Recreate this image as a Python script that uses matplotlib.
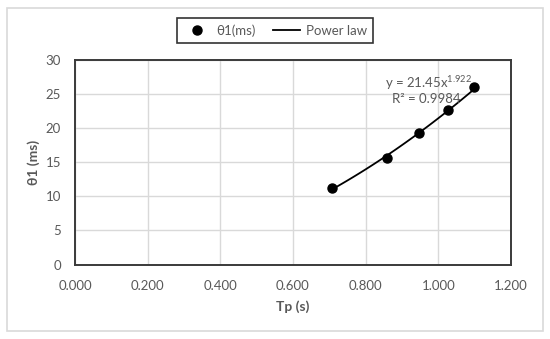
import matplotlib
matplotlib.use("Agg")
import matplotlib.pyplot as plt
import numpy as np
from matplotlib.patches import Rectangle

# data
tp = [0.708, 0.858, 0.948, 1.027, 1.098]
theta1 = [11.2, 15.6, 19.25, 22.65, 26.0]
x_ticks = [0.0, 0.2, 0.4, 0.6, 0.8, 1.0, 1.2]
y_ticks = [0, 5, 10, 15, 20, 25, 30]
eq_text = "y = 21.45x$^{1.922}$"
r2_text = "R² = 0.9984"

fam = ['Lato', 'DejaVu Sans']
plt.rcParams['font.family'] = fam
plt.rcParams['mathtext.fontset'] = 'custom'
plt.rcParams['mathtext.rm'] = 'Lato'
plt.rcParams['mathtext.it'] = 'Lato'
plt.rcParams['mathtext.default'] = 'regular'
gray = '#595959'

W, H = 550, 339
fig = plt.figure(figsize=(W/100, H/100), dpi=100)
# outer frame
fig.patches.append(Rectangle((7/W, 1-331/H), (543-7)/W, (331-8)/H, transform=fig.transFigure,
                             fill=False, edgecolor='#d9d9d9', linewidth=1.2))
ax = fig.add_axes([75/W, 1-264.5/H, (511-75)/W, (264.5-60)/H])

# power law fit (log-log least squares, as a spreadsheet trendline does)
b, lna = np.polyfit(np.log(tp), np.log(theta1), 1)
xf = np.linspace(min(tp), max(tp), 100)
yf = np.exp(lna) * xf**b

ax.plot(xf, yf, color='black', linewidth=1.3, label='Power law', zorder=3)
ax.plot(tp, theta1, 'o', color='black', markersize=6.5, label='θ1(ms)', zorder=4)

ax.set_xlim(0, 1.2)
ax.set_ylim(0, 30)
ax.set_xticks(x_ticks)
ax.set_yticks(y_ticks)
ax.set_xticklabels([f"{v:.3f}" for v in x_ticks])
ax.grid(True, color='#d9d9d9', linewidth=1.0)
ax.set_axisbelow(True)
for s in ax.spines.values():
    s.set_color('#3a3a3a')
    s.set_linewidth(1.4)
ax.tick_params(length=0, labelsize=9.5, colors=gray)
ax.tick_params(axis='x', pad=11)
ax.tick_params(axis='y', pad=10)

ax.set_xlabel('Tp (s)', fontsize=10, fontweight='bold', color=gray, labelpad=6)
ax.set_ylabel('θ1 (ms)', fontsize=10, fontweight='bold', color=gray, labelpad=4)

ax.text(0.711, 0.888, eq_text, transform=ax.transAxes, fontsize=9.5, color=gray, ha='left', va='center')
ax.text(0.727, 0.809, r2_text, transform=ax.transAxes, fontsize=9.5, color=gray, ha='left', va='center')

h, l = ax.get_legend_handles_labels()
leg = fig.legend([h[1], h[0]], [l[1], l[0]], loc='center', bbox_to_anchor=(275/W, 1-30.5/H),
                 ncol=2, frameon=True, fancybox=False, fontsize=9.5, handlelength=2.1,
                 handletextpad=0.4, columnspacing=1.3, borderpad=0.45, borderaxespad=0)
leg.get_frame().set_edgecolor('black')
leg.get_frame().set_linewidth(1.2)
for t in leg.get_texts():
    t.set_color(gray)

fig.savefig('out.png', dpi=100)
